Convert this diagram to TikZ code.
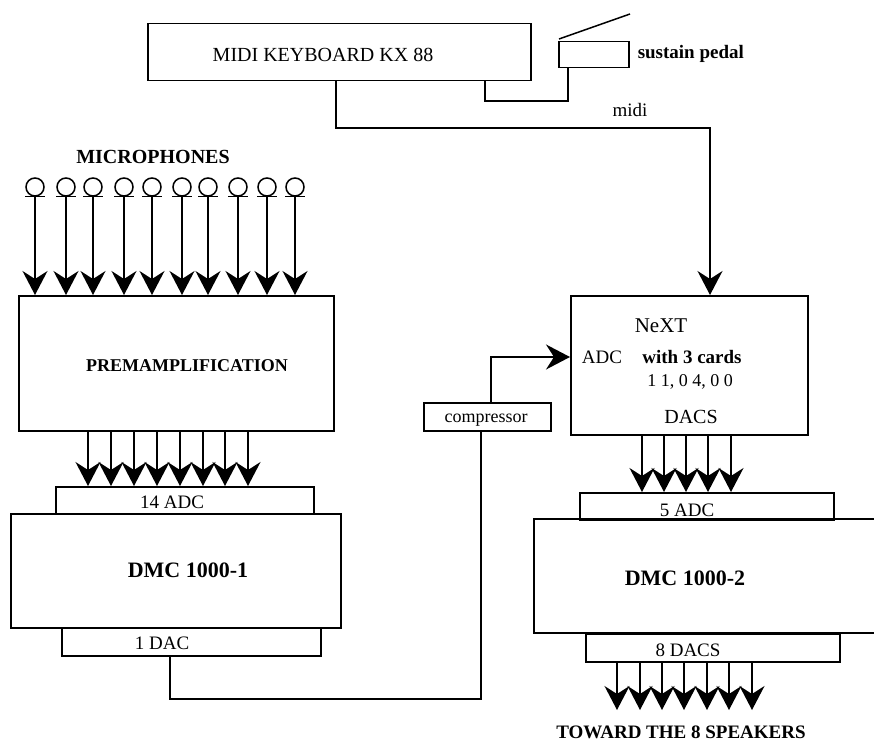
\documentclass[tikz,border=0pt]{standalone}
\usepackage{fontspec}
\setmainfont{Liberation Serif}
\usetikzlibrary{arrows.meta}
\newcommand\tsz[1]{\fontsize{#1}{#1}\selectfont}
\begin{document}
\begin{tikzpicture}[x=1pt,y=-1pt,
  line width=1.5pt,
  box/.style={draw,rectangle,inner sep=0pt,anchor=north west},
  lbl/.style={inner sep=0pt,font=\tsz{19}},
  blbl/.style={inner sep=0pt,font=\tsz{19}\bfseries},
  arr/.style={-{Stealth[length=24pt,width=25pt,inset=8pt]}},
  micc/.style={draw,circle,minimum size=18pt,inner sep=0pt}]
\useasboundingbox (0,0) rectangle (874,751);
% boxes
\node[box,minimum width=383pt,minimum height=57pt] (kb) at (147,23) {};
\node[box,minimum width=70pt,minimum height=26pt] (pedal) at (558,41) {};
\node[box,minimum width=315pt,minimum height=135pt] (preamp) at (18,295) {};
\node[box,minimum width=258pt,minimum height=27pt] (adcA) at (55,486) {};
\node[box,minimum width=330pt,minimum height=114pt] (dmcA) at (10,513) {};
\node[box,minimum width=259pt,minimum height=28pt] (dacA) at (61,627) {};
\node[box,minimum width=127pt,minimum height=28pt] (comp) at (423,402) {};
\node[box,minimum width=237pt,minimum height=139pt] (next) at (570,295) {};
\node[box,minimum width=254pt,minimum height=27pt] (adcB) at (579,492) {};
\draw (874,519) -- (534,519) -- (534,633) -- (874,633);
\node[box,minimum width=254pt,minimum height=28pt] (dacB) at (585,633) {};
% texts
\node[lbl,font=\tsz{20}] (kbt) at (323,55) {MIDI KEYBOARD KX 88};
\node[blbl,anchor=west] (sust) at (637,54) {sustain pedal};
\node[lbl] (miditxt) at (630,110) {midi};
\node[blbl,font=\tsz{20}\bfseries] (mics) at (153,157) {MICROPHONES};
\node[blbl,font=\tsz{18}\bfseries] (pret) at (187,366) {PREMAMPLIFICATION};
\node[lbl] (adcAt) at (172,502) {14 ADC};
\node[blbl,font=\tsz{22}\bfseries] (dmcAt) at (188,570) {DMC 1000-1};
\node[lbl] (dacAt) at (162,643) {1 DAC};
\node[lbl,font=\tsz{18},anchor=base] (compt) at (486,422) {compressor};
\node[lbl,font=\tsz{21}] (nextt) at (661,326) {NeXT};
\node[lbl] (nadc) at (602,357) {ADC};
\node[blbl] (ncards) at (692,357) {with 3 cards};
\node[lbl,font=\tsz{18}] (nnums) at (690,382) {1 1, 0 4, 0 0};
\node[lbl,font=\tsz{20}] (ndacs) at (691,417) {DACS};
\node[lbl] (adcBt) at (687,510) {5 ADC};
\node[blbl,font=\tsz{22}\bfseries] (dmcBt) at (685,578) {DMC 1000-2};
\node[lbl] (dacBt) at (688,650) {8 DACS};
\node[blbl] (toward) at (681,732) {TOWARD THE 8 SPEAKERS};
% keyboard connectors
\draw[arr] (kb.south -| 336,0) -- (336,128) -| (next.north -| 710,0);
\draw (kb.south -| 485,0) -- (485,101) -| (pedal.south -| 568,0);
\draw (pedal.north west) ++(1,-2) -- ++(71,-25);
% microphones
\foreach \x [count=\i] in {35,66,93,124,152,182,208,238,267,295}{
  \node[micc] (mic\i) at (\x,187) {};
  \draw ([xshift=-10pt]mic\i.south) -- ([xshift=10pt]mic\i.south);
  \draw[arr] (mic\i.south) -- (preamp.north -| mic\i.south);
}
% preamp to 14 ADC
\foreach \x in {88,111,134,157,180,203,225,248}
  \draw[arr] (preamp.south -| \x,0) -- (adcA.north -| \x,0);
% 1 DAC to compressor to NeXT
\draw (dacA.south -| 170,0) -- (170,699) -| (comp.south -| 481,0);
\draw[arr] (comp.north -| 491,0) |- (next.west |- 0,357);
% NeXT to 5 ADC
\foreach \x in {642,664,686,708,731}
  \draw[arr] (next.south -| \x,0) -- (adcB.north -| \x,0);
% 8 DACS to speakers
\foreach \x [count=\i] in {617,640,662,684,707,729,752}{
  \coordinate (spk\i) at (\x,710);
  \draw[arr] (dacB.south -| spk\i) -- (spk\i);
}
\end{tikzpicture}
\end{document}
